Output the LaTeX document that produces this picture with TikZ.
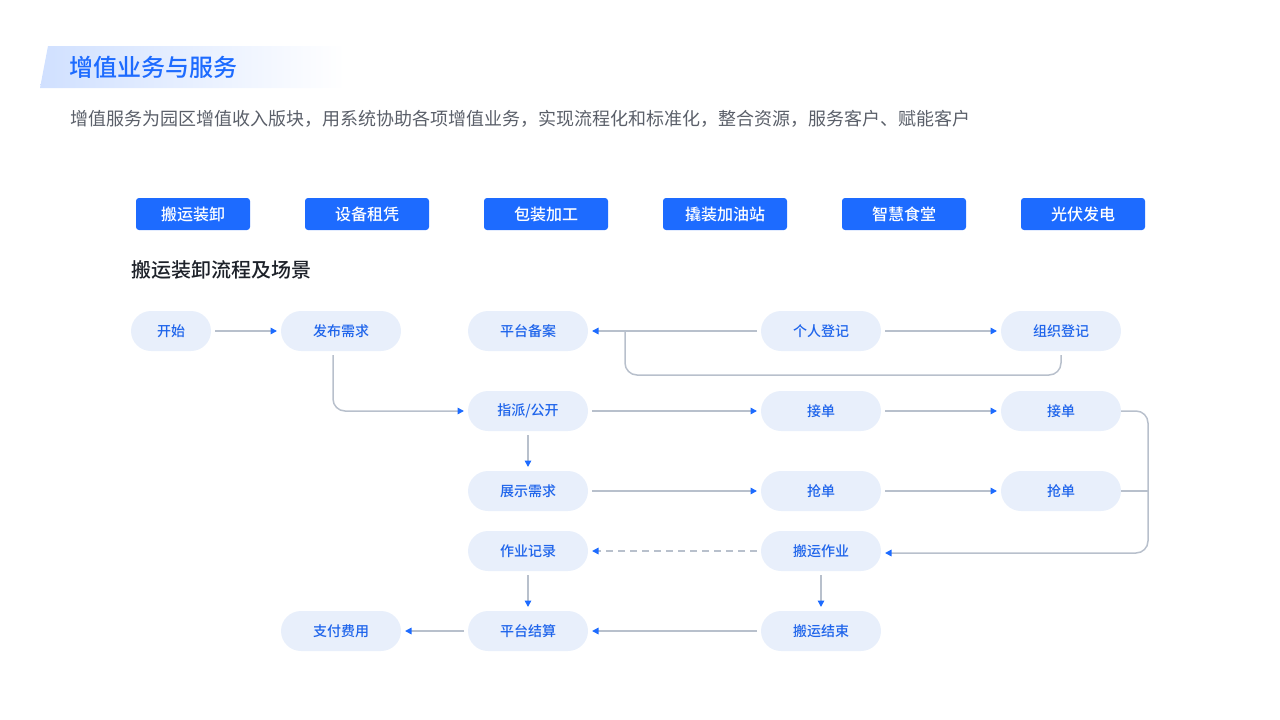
\documentclass[tikz,border=0pt]{standalone}
\usepackage{fontspec}
\setmainfont{Noto Sans CJK SC}
\IfFontExistsTF{Noto Sans CJK SC Medium}{\newfontfamily\medfont{Noto Sans CJK SC Medium}}{\newfontfamily\medfont{Noto Sans CJK SC}[FakeBold=1.3]}
\usepackage{tikz}
\usetikzlibrary{arrows.meta,positioning,calc}
\definecolor{btnblue}{RGB}{29,107,255}
\definecolor{nodefill}{RGB}{232,239,251}
\definecolor{nodetext}{RGB}{30,100,235}
\definecolor{linegray}{RGB}{184,192,204}
\definecolor{subgray}{RGB}{90,95,105}
\definecolor{headdark}{RGB}{29,33,41}
\definecolor{bannerblue}{RGB}{208,224,255}
\tikzstyle{Pstate}=[shape=rectangle,rounded corners=20pt,fill=nodefill,text=nodetext,minimum width=120pt,minimum height=40pt,inner sep=0pt,outer sep=4pt,font=\fontsize{14}{16}\medfont]
\tikzstyle{Bstate}=[shape=rectangle,rounded corners=3pt,fill=btnblue,text=white,minimum width=124pt,minimum height=32pt,inner sep=0pt,font=\fontsize{16}{18}\medfont]
\tikzstyle{flowedge}=[draw=linegray,line width=1.5pt,-{Triangle[color=btnblue,length=6.5pt,width=6.5pt]}]
\tikzstyle{flowline}=[draw=linegray,line width=1.5pt]

\begin{document}
\begin{tikzpicture}[x=1pt,y=-1pt]
\useasboundingbox (0,0) rectangle (1280,720);

% title
\shade[left color=bannerblue,right color=white] (48,46) -- (345,46) -- (345,88) -- (40,88) -- cycle;
\node[anchor=west,text=btnblue,font=\fontsize{24}{26}\medfont] (title) at (66,67) {增值业务与服务};
\node[anchor=west,text=subgray,font=\fontsize{18}{20}\selectfont] (subtitle) at (67,119) {增值服务为园区增值收入版块，用系统协助各项增值业务，实现流程化和标准化，整合资源，服务客户、赋能客户};

% buttons
\node[Bstate,minimum width=114pt] (banyun) at (193,214) {搬运装卸};
\node[Bstate] (shebei) at (367,214) {设备租凭};
\node[Bstate] (baozhuang) at (546,214) {包装加工};
\node[Bstate] (qiaozhuang) at (725,214) {撬装加油站};
\node[Bstate] (shitang) at (904,214) {智慧食堂};
\node[Bstate] (guangfu) at (1083,214) {光伏发电};

\node[anchor=west,text=headdark,font=\fontsize{20}{22}\medfont] (heading) at (128,270) {搬运装卸流程及场景};

% flow nodes
\node[Pstate,minimum width=80pt] (start) at (171,331) {开始};
\node[Pstate] (fabu) at (341,331) {发布需求};
\node[Pstate] (beian) at (528,331) {平台备案};
\node[Pstate] (geren) at (821,331) {个人登记};
\node[Pstate] (zuzhi) at (1061,331) {组织登记};

\node[Pstate] (zhipai) at (528,411) {指派/公开};
\node[Pstate] (jiedanA) at (821,411) {接单};
\node[Pstate] (jiedanB) at (1061,411) {接单};

\node[Pstate] (zhanshi) at (528,491) {展示需求};
\node[Pstate] (qiangA) at (821,491) {抢单};
\node[Pstate] (qiangB) at (1061,491) {抢单};

\node[Pstate] (jilu) at (528,551) {作业记录};
\node[Pstate] (zuoye) at (821,551) {搬运作业};

\node[Pstate] (zhifu) at (341,631) {支付费用};
\node[Pstate] (jiesuan) at (528,631) {平台结算};
\node[Pstate] (jieshu) at (821,631) {搬运结束};

\coordinate (bendA) at (625,375);
\coordinate (bendB) at (1148,553);

 \path
(start) edge [flowedge] (fabu)
(geren) edge [flowedge] (beian)
(geren) edge [flowedge] (zuzhi)
(zhipai) edge [flowedge] (jiedanA)
(jiedanA) edge [flowedge] (jiedanB)
(zhipai) edge [flowedge] (zhanshi)
(zhanshi) edge [flowedge] (qiangA)
(qiangA) edge [flowedge] (qiangB)
(zuoye) edge [flowedge,dash pattern=on 7pt off 5pt] (jilu)
(jilu) edge [flowedge] (jiesuan)
(zuoye) edge [flowedge] (jieshu)
(jieshu) edge [flowedge] (jiesuan)
(jiesuan) edge [flowedge] (zhifu);

\draw[flowline,rounded corners=12pt] (zuzhi.south) |- (bendA) -- (bendA |- geren);
\draw[flowedge,rounded corners=12pt] ([xshift=-8pt]fabu.south) |- (zhipai.west);
\draw[flowedge,rounded corners=12pt] ([xshift=-4pt]jiedanB.east) -| (bendB) -- (zuoye.east |- bendB);
\draw[flowline] ([xshift=-4pt]qiangB.east) -- (qiangB.east -| bendB);

\end{tikzpicture}
\end{document}
